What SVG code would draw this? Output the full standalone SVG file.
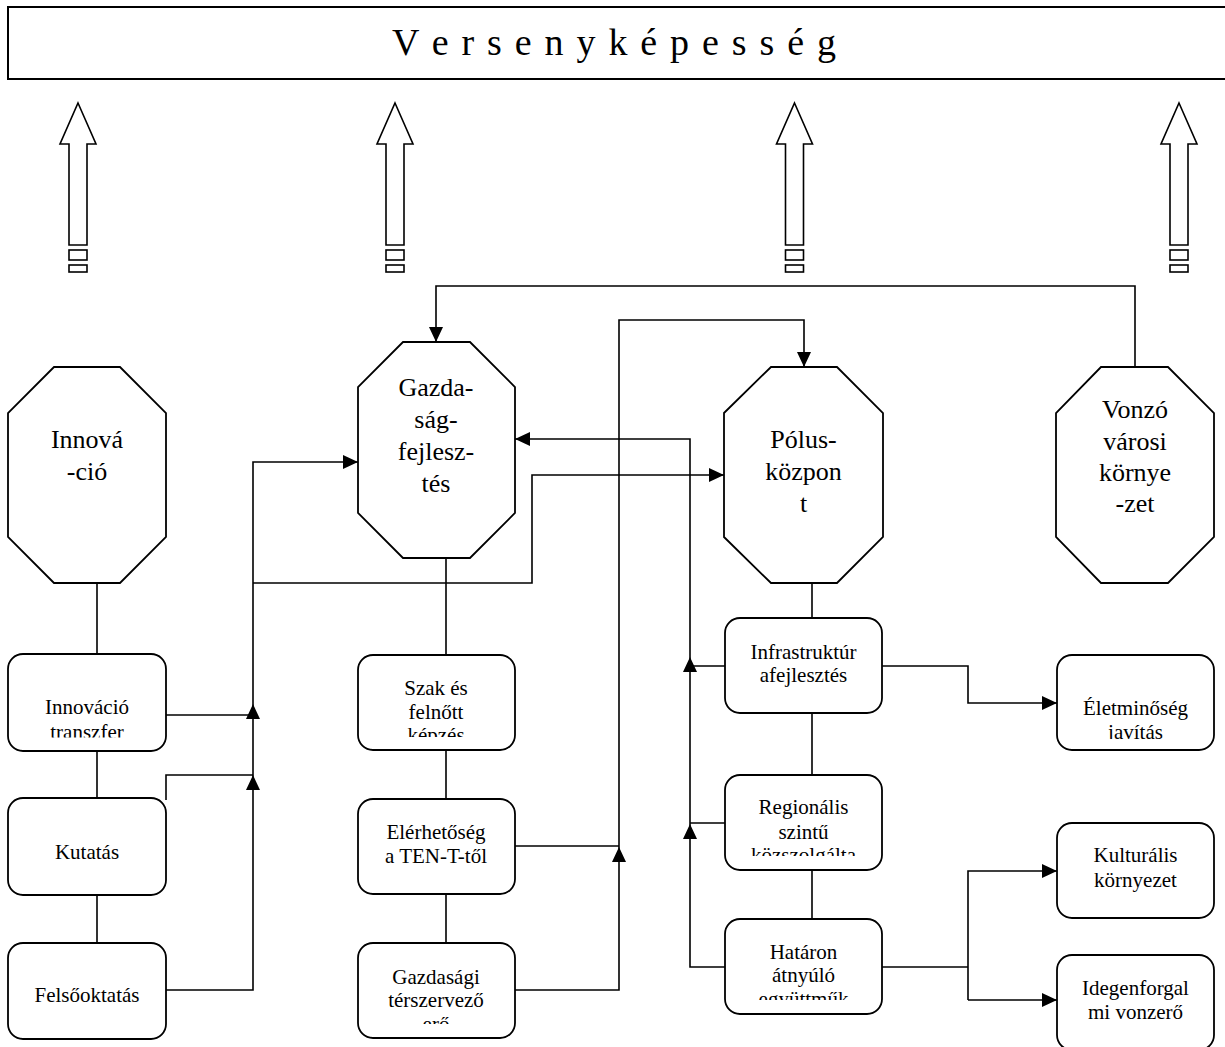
<svg xmlns="http://www.w3.org/2000/svg" xmlns:xlink="http://www.w3.org/1999/xlink" width="1225" height="1047" viewBox="0 0 1225 1047">
<style>
text{font-family:"Liberation Serif","Times New Roman",serif;fill:#000;text-anchor:middle}
.oct{fill:#fff;stroke:#000;stroke-width:1.8}
.box{fill:#fff;stroke:#000;stroke-width:1.8}
.ln{fill:none;stroke:#000;stroke-width:1.6}
.ot{font-size:26px}
.bt{font-size:21px}
.big{fill:#fff;stroke:#000;stroke-width:1.6}
.ah{fill:#000}
</style>
<defs>
<marker id="arr" markerUnits="userSpaceOnUse" markerWidth="15" markerHeight="14" refX="15" refY="7" orient="auto">
<path d="M0,0 L15,7 L0,14 Z" fill="#000"/>
</marker>
<path id="up" d="M0,0 L7,15 L-7,15 Z"/>
<g id="bigarrow">
<path class="big" d="M0,103 L18,144 L9,144 L9,245 L-9,245 L-9,144 L-18,144 Z"/>
<rect class="big" x="-9" y="250" width="18" height="10"/>
<rect class="big" x="-9" y="265" width="18" height="7"/>
</g>
<clipPath id="c1"><rect x="8" y="654" width="158" height="83.5"/></clipPath>
<clipPath id="c2"><rect x="358" y="655" width="157" height="82"/></clipPath>
<clipPath id="c3"><rect x="358" y="943" width="157" height="81"/></clipPath>
<clipPath id="c4"><rect x="725" y="775" width="157" height="81"/></clipPath>
<clipPath id="c5"><rect x="725" y="919" width="157" height="81"/></clipPath>
<clipPath id="c6"><rect x="1057" y="655" width="157" height="84"/></clipPath>
</defs>
<rect width="1225" height="1047" fill="#fff"/>

<g id="banner">
<rect x="8" y="7" width="1230" height="72" fill="#fff" stroke="#000" stroke-width="2"/>
<text x="614" y="55" font-size="38" textLength="444" lengthAdjust="spacing">V e r s e n y k é p e s s é g</text>
</g>

<g id="top-arrows">
<use xlink:href="#bigarrow" href="#bigarrow" transform="translate(78,0)"/>
<use xlink:href="#bigarrow" href="#bigarrow" transform="translate(395,0)"/>
<use xlink:href="#bigarrow" href="#bigarrow" transform="translate(794.5,0)"/>
<use xlink:href="#bigarrow" href="#bigarrow" transform="translate(1179,0)"/>
</g>

<g id="connectors">
<path class="ln" d="M97,583 V654 M97,751 V798 M97,895 V943"/>
<path class="ln" d="M446,558 V655 M446,750 V799 M446,894 V943"/>
<path class="ln" d="M812,583 V618 M812,713 V775 M812,870 V919"/>
<path class="ln" d="M166,990 H253 V462 H358" marker-end="url(#arr)"/>
<path class="ln" d="M166,800 V775 H253"/>
<path class="ln" d="M166,715 H253"/>
<path class="ln" d="M253,583 H532 V475 H724" marker-end="url(#arr)"/>
<path class="ln" d="M515,990 H619 V320 H804 V367" marker-end="url(#arr)"/>
<path class="ln" d="M515,846 H619"/>
<path class="ln" d="M725,967 H690 V439 H515" marker-end="url(#arr)"/>
<path class="ln" d="M725,666 H690 M725,823 H690"/>
<path class="ln" d="M1135,367 V286 H436 V342" marker-end="url(#arr)"/>
<path class="ln" d="M882,666 H968 V703 H1057" marker-end="url(#arr)"/>
<path class="ln" d="M882,967 H968"/>
<path class="ln" d="M968,1000 V871 H1057" marker-end="url(#arr)"/>
<path class="ln" d="M968,1000 H1057" marker-end="url(#arr)"/>
<use class="ah" xlink:href="#up" href="#up" transform="translate(253,704)"/>
<use class="ah" xlink:href="#up" href="#up" transform="translate(253,775)"/>
<use class="ah" xlink:href="#up" href="#up" transform="translate(619,847)"/>
<use class="ah" xlink:href="#up" href="#up" transform="translate(690,657)"/>
<use class="ah" xlink:href="#up" href="#up" transform="translate(690,824)"/>
</g>

<g id="innovacio">
<path class="oct" d="M54,367 H120 L166,413 V537 L120,583 H54 L8,537 V413 Z"/>
<text class="ot" x="87" y="448">Innová</text>
<text class="ot" x="87" y="480">-ció</text>
</g>
<g id="gazdasagfejlesztes">
<path class="oct" d="M403,342 H470 L515,387 V513 L470,558 H403 L358,513 V387 Z"/>
<text class="ot" x="436" y="396">Gazda-</text>
<text class="ot" x="436" y="428">ság-</text>
<text class="ot" x="436" y="460">fejlesz-</text>
<text class="ot" x="436" y="492">tés</text>
</g>
<g id="poluskozpont">
<path class="oct" d="M771,367 H837 L883,413 V537 L837,583 H771 L724,537 V413 Z"/>
<text class="ot" x="803.5" y="448">Pólus-</text>
<text class="ot" x="803.5" y="480">közpon</text>
<text class="ot" x="803.5" y="512">t</text>
</g>
<g id="vonzo">
<path class="oct" d="M1101,367 H1168 L1214,413 V537 L1168,583 H1101 L1056,537 V413 Z"/>
<text class="ot" x="1135" y="418">Vonzó</text>
<text class="ot" x="1135" y="450">városi</text>
<text class="ot" x="1135" y="481">környe</text>
<text class="ot" x="1135" y="512">-zet</text>
</g>

<g id="innovacio-transzfer">
<rect class="box" x="8" y="654" width="158" height="97" rx="15"/>
<g clip-path="url(#c1)"><text class="bt" x="87" y="713.5">Innováció</text><text class="bt" x="87" y="738.5">transzfer</text></g>
</g>
<g id="kutatas">
<rect class="box" x="8" y="798" width="158" height="97" rx="15"/>
<text class="bt" x="87" y="858.5">Kutatás</text>
</g>
<g id="felsooktatas">
<rect class="box" x="8" y="943" width="158" height="96" rx="15"/>
<text class="bt" x="87" y="1002">Felsőoktatás</text>
</g>

<g id="szak">
<rect class="box" x="358" y="655" width="157" height="95" rx="15"/>
<g clip-path="url(#c2)"><text class="bt" x="436" y="695">Szak és</text><text class="bt" x="436" y="718.5">felnőtt</text><text class="bt" x="436" y="742">képzés</text></g>
</g>
<g id="elerhetoseg">
<rect class="box" x="358" y="799" width="157" height="95" rx="15"/>
<text class="bt" x="436" y="838.5">Elérhetőség</text>
<text class="bt" x="436" y="862.5">a TEN-T-től</text>
</g>
<g id="gazdasagi">
<rect class="box" x="358" y="943" width="157" height="95" rx="15"/>
<g clip-path="url(#c3)"><text class="bt" x="436" y="983.5">Gazdasági</text><text class="bt" x="436" y="1007">térszervező</text><text class="bt" x="436" y="1030.5">erő</text></g>
</g>

<g id="infrastruktura">
<rect class="box" x="725" y="618" width="157" height="95" rx="15"/>
<text class="bt" x="803.5" y="658.5">Infrastruktúr</text>
<text class="bt" x="803.5" y="682">afejlesztés</text>
</g>
<g id="regionalis">
<rect class="box" x="725" y="775" width="157" height="95" rx="15"/>
<g clip-path="url(#c4)"><text class="bt" x="803.5" y="813.5">Regionális</text><text class="bt" x="803.5" y="838.5">szintű</text><text class="bt" x="803.5" y="862">közszolgálta</text></g>
</g>
<g id="hataron">
<rect class="box" x="725" y="919" width="157" height="95" rx="15"/>
<g clip-path="url(#c5)"><text class="bt" x="803.5" y="958.5">Határon</text><text class="bt" x="803.5" y="982">átnyúló</text><text class="bt" x="803.5" y="1005.5">együttműk</text></g>
</g>

<g id="eletminoseg">
<rect class="box" x="1057" y="655" width="157" height="95" rx="15"/>
<g clip-path="url(#c6)"><text class="bt" x="1135.5" y="714.5">Életminőség</text><text class="bt" x="1135.5" y="738.5">javítás</text></g>
</g>
<g id="kulturalis">
<rect class="box" x="1057" y="823" width="157" height="95" rx="15"/>
<text class="bt" x="1135.5" y="862">Kulturális</text>
<text class="bt" x="1135.5" y="887">környezet</text>
</g>
<g id="idegenforgalmi">
<rect class="box" x="1057" y="955" width="157" height="95" rx="15"/>
<text class="bt" x="1135.5" y="995">Idegenforgal</text>
<text class="bt" x="1135.5" y="1018.5">mi vonzerő</text>
</g>
</svg>
